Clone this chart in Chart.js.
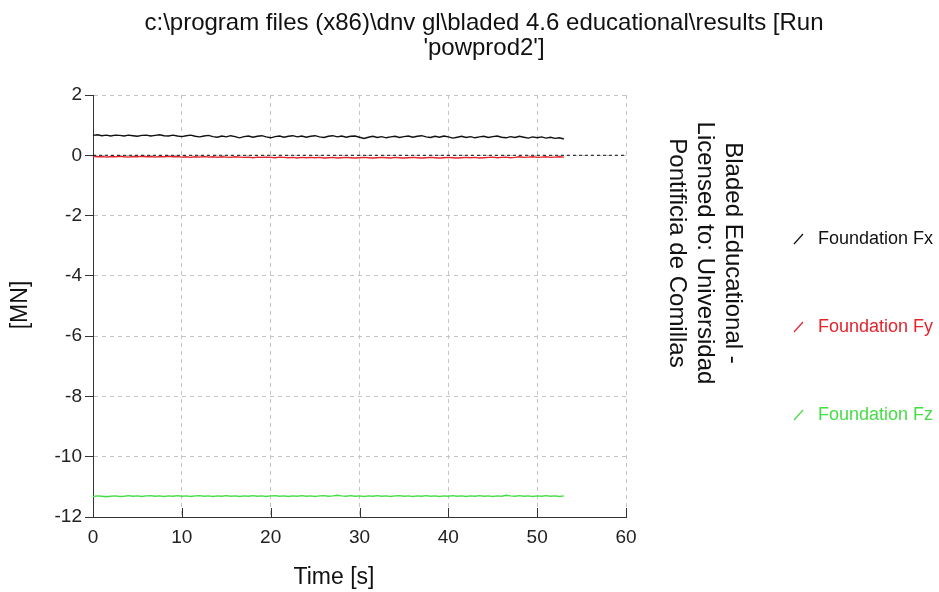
<!DOCTYPE html>
<html>
<head>
<meta charset="utf-8">
<script src="https://cdn.jsdelivr.net/npm/chart.js@4/dist/chart.umd.min.js"></script>
<style>
  html, body { margin: 0; padding: 0; background: #fff; }
  #wrap { width: 939px; height: 592px; position: relative; }
</style>
</head>
<body>
<div id="wrap"><canvas id="c" width="939" height="592"></canvas></div>
<script>
// Time axis samples [s]
const timeS = [
  0,0.5,1,1.5,2,2.5,3,3.5,4,4.5,
  5,5.5,6,6.5,7,7.5,8,8.5,9,9.5,
  10,10.5,11,11.5,12,12.5,13,13.5,14,14.5,
  15,15.5,16,16.5,17,17.5,18,18.5,19,19.5,
  20,20.5,21,21.5,22,22.5,23,23.5,24,24.5,
  25,25.5,26,26.5,27,27.5,28,28.5,29,29.5,
  30,30.5,31,31.5,32,32.5,33,33.5,34,34.5,
  35,35.5,36,36.5,37,37.5,38,38.5,39,39.5,
  40,40.5,41,41.5,42,42.5,43,43.5,44,44.5,
  45,45.5,46,46.5,47,47.5,48,48.5,49,49.5,
  50,50.5,51,51.5,52,52.5,53
];

// Foundation Fx [MN]
const foundationFx = [
  0.66,0.68,0.65,0.67,0.64,0.67,0.66,0.64,0.67,0.65,
  0.63,0.66,0.67,0.64,0.66,0.68,0.65,0.64,0.67,0.64,
  0.62,0.65,0.67,0.63,0.61,0.64,0.66,0.62,0.60,0.64,
  0.61,0.65,0.62,0.58,0.62,0.64,0.60,0.63,0.65,0.61,
  0.58,0.62,0.64,0.60,0.63,0.65,0.61,0.64,0.60,0.63,
  0.65,0.61,0.59,0.63,0.65,0.61,0.64,0.60,0.63,0.64,
  0.60,0.56,0.60,0.63,0.59,0.62,0.58,0.61,0.63,0.59,
  0.62,0.64,0.60,0.63,0.65,0.61,0.59,0.63,0.60,0.64,
  0.61,0.57,0.60,0.63,0.59,0.62,0.58,0.61,0.63,0.59,
  0.62,0.64,0.60,0.58,0.62,0.59,0.63,0.60,0.57,0.61,
  0.58,0.61,0.57,0.60,0.56,0.58,0.54
];

// Foundation Fy [MN]
const foundationFy = [
  -0.03,-0.05,-0.04,-0.06,-0.04,-0.05,-0.03,-0.05,-0.06,-0.04,
  -0.05,-0.03,-0.05,-0.04,-0.06,-0.04,-0.05,-0.03,-0.05,-0.04,
  -0.06,-0.05,-0.07,-0.05,-0.06,-0.04,-0.06,-0.05,-0.07,-0.05,
  -0.06,-0.07,-0.05,-0.06,-0.07,-0.06,-0.08,-0.06,-0.07,-0.06,
  -0.07,-0.08,-0.06,-0.07,-0.08,-0.07,-0.09,-0.07,-0.08,-0.07,
  -0.08,-0.07,-0.09,-0.08,-0.07,-0.09,-0.08,-0.07,-0.08,-0.09,
  -0.08,-0.07,-0.08,-0.09,-0.08,-0.07,-0.08,-0.09,-0.07,-0.08,
  -0.09,-0.08,-0.07,-0.08,-0.09,-0.08,-0.07,-0.08,-0.09,-0.08,
  -0.07,-0.08,-0.09,-0.08,-0.07,-0.08,-0.07,-0.09,-0.08,-0.07,
  -0.06,-0.08,-0.07,-0.06,-0.08,-0.07,-0.05,-0.07,-0.06,-0.05,
  -0.07,-0.06,-0.05,-0.07,-0.06,-0.05,-0.06
];

// Foundation Fz [MN]
const foundationFz = [
  -11.32,-11.30,-11.31,-11.33,-11.31,-11.30,-11.32,-11.31,-11.29,-11.31,
  -11.30,-11.32,-11.30,-11.29,-11.31,-11.30,-11.32,-11.30,-11.31,-11.29,
  -11.31,-11.30,-11.32,-11.30,-11.29,-11.31,-11.30,-11.32,-11.30,-11.31,
  -11.29,-11.31,-11.30,-11.32,-11.30,-11.31,-11.29,-11.31,-11.30,-11.32,
  -11.30,-11.29,-11.31,-11.30,-11.32,-11.30,-11.31,-11.29,-11.31,-11.30,
  -11.32,-11.30,-11.29,-11.31,-11.30,-11.28,-11.30,-11.31,-11.29,-11.31,
  -11.30,-11.32,-11.30,-11.31,-11.29,-11.31,-11.30,-11.32,-11.30,-11.29,
  -11.31,-11.30,-11.32,-11.30,-11.31,-11.29,-11.31,-11.30,-11.32,-11.30,
  -11.31,-11.29,-11.31,-11.30,-11.32,-11.30,-11.31,-11.29,-11.31,-11.30,
  -11.32,-11.30,-11.31,-11.28,-11.30,-11.31,-11.29,-11.31,-11.30,-11.32,
  -11.30,-11.31,-11.29,-11.31,-11.30,-11.32,-11.30
];

const seriesNames = ['Foundation Fx', 'Foundation Fy', 'Foundation Fz'];
const seriesColors = ['#111111', '#e3242b', '#45dd45'];
const titleLines = ['c:\\program files (x86)\\dnv gl\\bladed 4.6 educational\\results [Run', "'powprod2']"];
const licenceLines = ['Bladed Educational -', 'Licensed to: Universidad', 'Pontificia de Comillas'];
const xAxisTitle = 'Time [s]';
const yAxisTitle = '[MN]';

const FONT = '"Liberation Sans", Arial, sans-serif';

// Text, legend and inward x ticks drawn around the chart
const decorations = {
  id: 'decorations',
  afterDraw(chart) {
    const ctx = chart.ctx;
    const area = chart.chartArea;
    const xs = chart.scales.x;

    // inward tick marks on the time axis
    ctx.save();
    ctx.strokeStyle = '#333';
    ctx.lineWidth = 1;
    xs.ticks.forEach(t => {
      const px = Math.round(xs.getPixelForValue(t.value)) + 0.5;
      ctx.beginPath();
      ctx.moveTo(px, area.bottom);
      ctx.lineTo(px, area.bottom - 9);
      ctx.stroke();
    });
    ctx.restore();

    ctx.save();
    ctx.fillStyle = '#111';
    ctx.textAlign = 'center';
    ctx.textBaseline = 'middle';

    // title
    ctx.font = '24px ' + FONT;
    ctx.fillText(titleLines[0], 484, 23);
    ctx.fillText(titleLines[1], 484, 48);

    // axis titles
    ctx.font = '23px ' + FONT;
    ctx.fillText(xAxisTitle, 334, 578);
    ctx.save();
    ctx.translate(21, 305);
    ctx.rotate(-Math.PI / 2);
    ctx.fillText(yAxisTitle, 0, 0);
    ctx.restore();

    // licence text, reading downwards
    ctx.font = '24px ' + FONT;
    ctx.save();
    ctx.translate(733, 253);
    ctx.rotate(Math.PI / 2);
    licenceLines.forEach((line, i) => ctx.fillText(line, 0, i * 28));
    ctx.restore();

    // legend
    ctx.font = '18px ' + FONT;
    ctx.textAlign = 'left';
    const legendY = [239, 327, 415];
    seriesNames.forEach((name, i) => {
      ctx.strokeStyle = seriesColors[i];
      ctx.lineWidth = 1.2;
      ctx.beginPath();
      ctx.moveTo(794, legendY[i] + 5);
      ctx.lineTo(803, legendY[i] - 5);
      ctx.stroke();
      ctx.fillStyle = seriesColors[i];
      ctx.fillText(name, 818, legendY[i]);
    });
    ctx.restore();
  }
};

const lineStyle = (label, data, color) => ({
  label, data,
  borderColor: color,
  borderWidth: 1.4,
  pointRadius: 0,
  tension: 0,
  fill: false
});

new Chart(document.getElementById('c'), {
  type: 'line',
  data: {
    labels: timeS,
    datasets: [
      {
        label: 'zero',
        data: [{ x: 0, y: 0 }, { x: 60, y: 0 }],
        borderColor: '#111',
        borderWidth: 1,
        borderDash: [3, 3],
        pointRadius: 0
      },
      lineStyle(seriesNames[0], foundationFx, seriesColors[0]),
      lineStyle(seriesNames[1], foundationFy, seriesColors[1]),
      lineStyle(seriesNames[2], foundationFz, seriesColors[2])
    ]
  },
  options: {
    responsive: false,
    animation: false,
    devicePixelRatio: 1,
    layout: { padding: { top: 95, right: 313, left: 0, bottom: 0 } },
    plugins: {
      legend: { display: false },
      title: { display: false },
      tooltip: { enabled: false }
    },
    scales: {
      x: {
        type: 'linear',
        min: 0, max: 60,
        ticks: { stepSize: 10, padding: 9, color: '#222', font: { family: FONT, size: 19 }, maxRotation: 0 },
        grid: { color: '#c4c4c4', drawTicks: false, lineWidth: 1 },
        border: { color: '#333', width: 1, dash: [4, 4] },
        afterFit(s) { s.height = 75; }
      },
      y: {
        min: -12, max: 2,
        ticks: { stepSize: 2, padding: 3, color: '#222', font: { family: FONT, size: 19 } },
        grid: { color: '#c4c4c4', tickColor: '#333', tickLength: 8, lineWidth: 1 },
        border: { color: '#333', width: 1, dash: [4, 4] },
        afterFit(s) { s.width = 93; }
      }
    }
  },
  plugins: [decorations]
});
</script>
</body>
</html>
